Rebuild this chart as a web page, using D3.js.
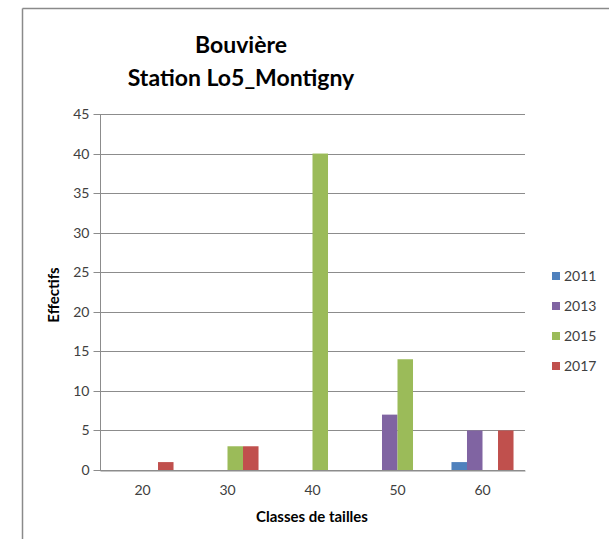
<!DOCTYPE html>
<html><head><meta charset="utf-8">
<script src="https://cdn.jsdelivr.net/npm/d3@7/dist/d3.min.js"></script>
<style>body{margin:0;background:#fff}svg{display:block}</style>
</head><body><svg id="c" width="609" height="539"></svg>
<script>
const categories = ["20","30","40","50","60"];
const seriesNames = ["2011","2013","2015","2017"];
const v2011 = [0,0,0,0,1];
const v2013 = [0,0,0,7,5];
const v2015 = [0,3,40,14,0];
const v2017 = [1,3,0,0,5];
const yTicks = [0,5,10,15,20,25,30,35,40,45];
const colors = ["#4F81BD","#8064A2","#9BBB59","#C0504D"];
const values = [v2011,v2013,v2015,v2017];

const svg = d3.select("#c");
const font = "Lato, 'Open Sans', sans-serif";

// frame
svg.append("line").attr("x1",22.5).attr("x2",609).attr("y1",8.5).attr("y2",8.5).attr("stroke","#8a8a8a").attr("stroke-width",1.5);
svg.append("line").attr("x1",22.5).attr("x2",22.5).attr("y1",8.5).attr("y2",539).attr("stroke","#8a8a8a").attr("stroke-width",1.5);

const x0 = d3.scaleBand().domain(categories).range([100,525]).padding(0);
const x1 = d3.scaleBand().domain(seriesNames).range([x0.bandwidth()*0.135, x0.bandwidth()*0.865]).padding(0);
const y = d3.scaleLinear().domain([0,45]).range([470,114]);

// gridlines
svg.append("g").selectAll("line").data(yTicks).join("line")
  .attr("x1",100).attr("x2",525)
  .attr("y1",d=>Math.round(y(d))+0.5).attr("y2",d=>Math.round(y(d))+0.5)
  .attr("stroke","#8c8c8c").attr("stroke-width",1.2);

// y axis
const ya = svg.append("g").attr("transform","translate(100.5,0)")
  .call(d3.axisLeft(y).tickValues(yTicks).tickSize(7).tickPadding(4));
ya.select(".domain").attr("stroke","#8c8c8c").attr("d","M0,114V470");
ya.selectAll(".tick line").attr("stroke","#8c8c8c");
ya.selectAll(".tick").attr("transform",d=>`translate(0,${Math.round(y(d))+0.5})`);
ya.selectAll("text").attr("font-family",font).attr("font-size",14).attr("fill","#404040");

// bars
seriesNames.forEach((s,i)=>{
  svg.append("g").selectAll("rect").data(values[i].map((v,j)=>({c:categories[j],v})).filter(d=>d.v>0)).join("rect")
    .attr("x",d=>x0(d.c)+x1(s)).attr("width",x1.bandwidth())
    .attr("y",d=>y(d.v)).attr("height",d=>y(0)-y(d.v))
    .attr("fill",colors[i]);
});

// x axis
const xa = svg.append("g").attr("transform","translate(0,470.5)")
  .call(d3.axisBottom(x0).tickSize(0).tickPadding(15));
xa.select(".domain").attr("stroke","#8c8c8c").attr("stroke-width",1.2);
xa.selectAll("text").attr("font-family",font).attr("font-size",14).attr("fill","#404040");

// titles
svg.append("text").attr("x",241).attr("y",53).attr("text-anchor","middle")
  .attr("font-family",font).attr("font-weight","bold").attr("font-size",23).attr("fill","#000").text("Bouvière");
svg.append("text").attr("x",241).attr("y",86).attr("text-anchor","middle")
  .attr("font-family",font).attr("font-weight","bold").attr("font-size",23).attr("fill","#000").text("Station Lo5_Montigny");
svg.append("text").attr("x",312).attr("y",522).attr("text-anchor","middle")
  .attr("font-family",font).attr("font-weight","bold").attr("font-size",15).attr("fill","#000").text("Classes de tailles");
svg.append("text").attr("transform","translate(59,295) rotate(-90)").attr("text-anchor","middle")
  .attr("font-family",font).attr("font-weight","bold").attr("font-size",15).attr("fill","#000").text("Effectifs");

// legend
const lg = svg.append("g");
seriesNames.forEach((s,i)=>{
  const ly = 276 + i*30;
  lg.append("rect").attr("x",552).attr("y",ly-4).attr("width",8).attr("height",8).attr("fill",colors[i]);
  lg.append("text").attr("x",564).attr("y",ly+5).attr("font-family",font).attr("font-size",14).attr("fill","#404040").text(s);
});
</script></body></html>
